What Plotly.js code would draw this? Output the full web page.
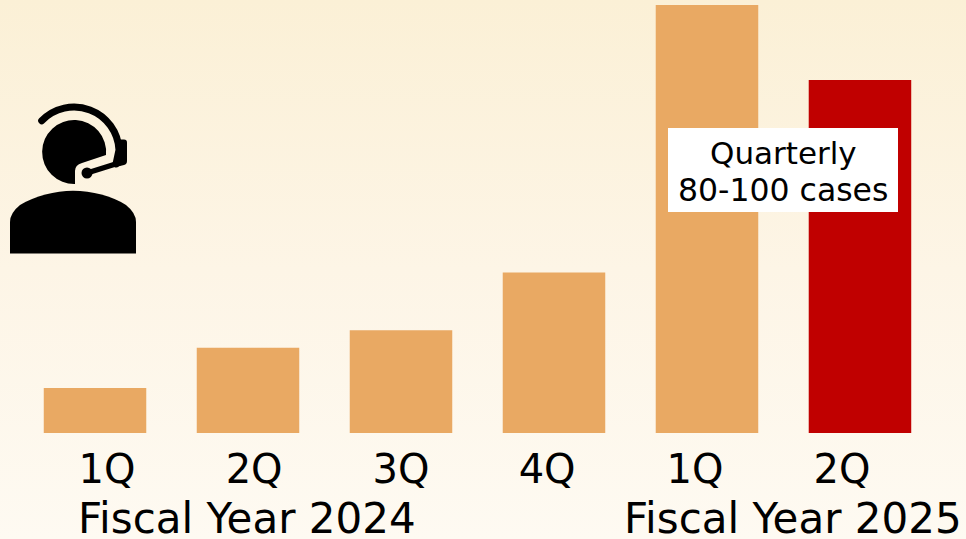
<!DOCTYPE html>
<html><head><meta charset="utf-8">
<script src="https://cdn.plot.ly/plotly-3.0.1.min.js"></script>
<style>
html,body{margin:0;padding:0;width:966px;height:539px;overflow:hidden;background:linear-gradient(180deg,#fbf0d6 0%,#fdf5e6 50%,#fefaf2 100%);}
#c{width:966px;height:539px;}
</style></head><body><div id="c"></div>
<script>
const W=966,H=539,PH=433;
const positions=[0,1,2,3,4,5];
const values=[10.5,19.9,24,37.5,100,82.5];
const barColors=['#e9a963','#e9a963','#e9a963','#e9a963','#e9a963','#c00000'];
const tickPositions=[0.078,1.04,2,2.955,3.922,4.882];
const tickLabels=['1Q','2Q','3Q','4Q','1Q','2Q'];
const yearLabels=['Fiscal Year 2024','Fiscal Year 2025'];
const calloutLines=['Quarterly','80-100 cases'];
const font='"DejaVu Sans",sans-serif';
const py=p=>1-p/PH;
const icon="<svg xmlns='http://www.w3.org/2000/svg' width='966' height='539' viewBox='0 0 966 539'>"+
"<path d='M106,155 A32,32 0 1 0 75,184 V171 Q75,165 82,163 Z' fill='black'/>"+
"<path d='M41.7,120.7 A45,45 0 0 1 119,150 L116,164' fill='none' stroke='black' stroke-width='7' stroke-linecap='round'/>"+
"<path d='M116,139.5 H124 Q127,139.5 127,142.5 V161 Q127,164 124,165 L116,167 Z' fill='black'/>"+
"<path d='M87,173 L122,162' stroke='black' stroke-width='5.5' stroke-linecap='round'/>"+
"<circle cx='87' cy='173' r='5.5' fill='black'/>"+
"<path d='M10,253.5 V222 Q10,213 20,205 C35,196 55,190.7 73,190.7 C92,190.7 112,196 126,205 Q136,213 136,222 V253.5 Z' fill='black'/></svg>";
const ann=(text,cx,cy,size)=>({text,xref:'paper',yref:'paper',x:cx/W,y:py(cy),xanchor:'center',yanchor:'middle',showarrow:false,font:{family:font,size,color:'#000'}});
Plotly.newPlot('c',[{
  type:'bar',x:positions,y:values,width:0.67,
  marker:{color:barColors,line:{width:0}},hoverinfo:'skip'
}],{
  width:W,height:H,margin:{l:0,r:0,t:0,b:106,pad:0},
  paper_bgcolor:'rgba(0,0,0,0)',plot_bgcolor:'rgba(0,0,0,0)',
  showlegend:false,
  xaxis:{range:[-0.621,5.693],tickmode:'array',tickvals:tickPositions,ticktext:tickLabels,
    showgrid:false,zeroline:false,showline:false,ticks:'outside',ticklen:1,tickcolor:'rgba(0,0,0,0)',
    tickfont:{family:font,size:40,color:'#000'},tickangle:0},
  yaxis:{range:[0,101.17],visible:false},
  shapes:[{type:'rect',xref:'paper',yref:'paper',x0:668/W,x1:898/W,y0:py(128),y1:py(212),fillcolor:'#fff',line:{width:0},layer:'above'}],
  images:[{source:'data:image/svg+xml;utf8,'+encodeURIComponent(icon),xref:'paper',yref:'paper',x:0,y:1,sizex:1,sizey:H/PH,xanchor:'left',yanchor:'top',sizing:'stretch',layer:'above'}],
  annotations:[
    ann(yearLabels[0],247,518,42),
    ann(yearLabels[1],793,518,42),
    ann(calloutLines[0],783,153,31),
    ann(calloutLines[1],783,190,31.5)
  ]
},{staticPlot:true,displayModeBar:false});
</script></body></html>
